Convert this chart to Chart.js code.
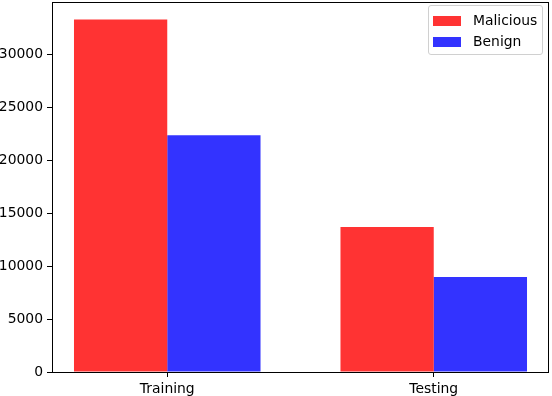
<!DOCTYPE html>
<html><head><meta charset="utf-8">
<script src="https://cdn.jsdelivr.net/npm/chart.js@4/dist/chart.umd.min.js"></script>
<style>
html,body{margin:0;padding:0;background:#fff;}
#wrap{position:relative;width:552px;height:396px;}
#legend{position:absolute;left:428px;top:5px;width:115px;height:50px;border:1px solid #d0d0d0;border-radius:3px;background:rgba(255,255,255,0.8);font-family:"DejaVu Sans",sans-serif;font-size:13.9px;color:#000;box-sizing:border-box;}
.item{position:absolute;left:4px;height:16px;}
.sw{position:absolute;left:0;top:4px;width:28px;height:10px;}
.lb{position:absolute;left:40px;top:0px;white-space:nowrap;}
</style></head>
<body><div id="wrap"><canvas id="c" width="552" height="396"></canvas><div id="legend"></div></div>
<script>
const categories = ["Training", "Testing"];
const seriesNames = ["Malicious", "Benign"];
const malicious = [33300, 13700];
const benign = [22370, 8980];
const yTicks = [0, 5000, 10000, 15000, 20000, 25000, 30000];
const colors = ["rgba(255,0,0,0.8)", "rgba(0,0,255,0.8)"];

const toPoints = arr => arr.map((v, i) => ({x: i, y: v}));
const font = {family: "DejaVu Sans", size: 13.9};

const boxPlugin = {
  id: 'box',
  afterDraw(chart) {
    const a = chart.chartArea, ctx = chart.ctx;
    ctx.save();
    ctx.strokeStyle = '#000'; ctx.lineWidth = 1;
    ctx.strokeRect(Math.round(a.left) + 0.5, Math.round(a.top) + 0.5, Math.round(a.right - a.left) - 1, Math.round(a.bottom - a.top));
    ctx.restore();
  }
};

const zeroPad = s => { s.paddingTop = 0; s.paddingBottom = 0; s.paddingLeft = 0; s.paddingRight = 0; };

const chart = new Chart(document.getElementById('c'), {
  type: 'bar',
  data: {
    datasets: [
      {label: seriesNames[0], data: toPoints(malicious), backgroundColor: colors[0], borderWidth: 0},
      {label: seriesNames[1], data: toPoints(benign), backgroundColor: colors[1], borderWidth: 0}
    ]
  },
  options: {
    responsive: false,
    animation: false,
    events: [],
    categoryPercentage: 0.7,
    barPercentage: 1.0,
    layout: {padding: {left: 0, right: 3, top: 2, bottom: 0}},
    plugins: {legend: {display: false}, tooltip: {enabled: false}},
    scales: {
      x: {
        type: 'linear',
        min: -0.4325, max: 1.4325,
        offset: false,
        afterBuildTicks: s => { s.ticks = categories.map((c, i) => ({value: i})); },
        afterFit: s => { s.height = 24; zeroPad(s); },
        ticks: {autoSkip: false, maxRotation: 0, color: '#000', font: font, padding: 4,
          callback: v => categories[v]},
        grid: {drawOnChartArea: false, tickLength: 5, color: '#000', offset: false},
        border: {display: false}
      },
      y: {
        min: 0, max: 34965,
        afterBuildTicks: s => { s.ticks = yTicks.map(v => ({value: v})); },
        afterFit: s => { s.width = 52; zeroPad(s); },
        ticks: {color: '#000', font: font, padding: 4, includeBounds: false, callback: v => String(v)},
        grid: {drawOnChartArea: false, tickLength: 5, color: '#000'},
        border: {display: false}
      }
    }
  },
  plugins: [boxPlugin]
});

const lg = document.getElementById('legend');
seriesNames.forEach((n, i) => {
  const it = document.createElement('div');
  it.className = 'item';
  it.style.top = (6 + i * 21) + 'px';
  it.innerHTML = '<div class="sw" style="background:' + colors[i] + '"></div><div class="lb">' + n + '</div>';
  lg.appendChild(it);
});
</script></body></html>
